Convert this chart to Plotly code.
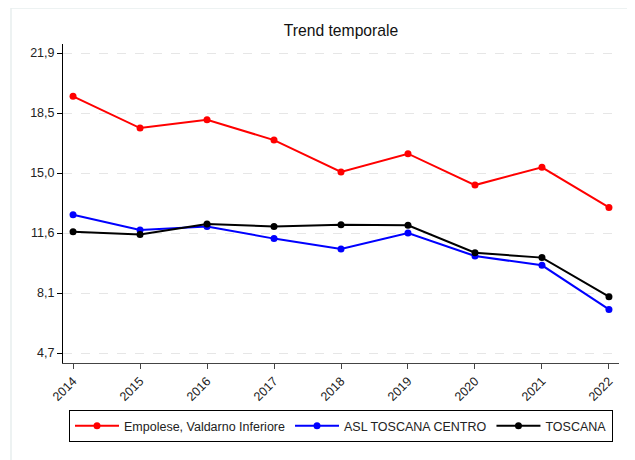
import plotly.graph_objects as go

years = [2014, 2015, 2016, 2017, 2018, 2019, 2020, 2021, 2022]
empolese = [19.42, 17.60, 18.08, 16.91, 15.08, 16.13, 14.33, 15.35, 13.05]
asl_centro = [12.63, 11.75, 11.96, 11.26, 10.66, 11.58, 10.26, 9.73, 7.20]
toscana = [11.66, 11.50, 12.10, 11.96, 12.06, 12.02, 10.45, 10.17, 7.93]

y_tickvals = [4.7, 8.14, 11.58, 15.02, 18.46, 21.9]
y_ticktext = ["4,7", "8,1", "11,6", "15,0", "18,5", "21,9"]

series = [
    ("Empolese, Valdarno Inferiore", empolese, "#ff0000"),
    ("ASL TOSCANA CENTRO", asl_centro, "#0000ff"),
    ("TOSCANA", toscana, "#000000"),
]

fig = go.Figure()
for name, vals, col in series:
    fig.add_trace(go.Scatter(
        x=years, y=vals, name=name, mode="lines+markers",
        line=dict(color=col, width=2),
        marker=dict(color=col, size=7),
    ))

# page body adds an 8px offset; figure coordinates are screen coordinates minus 8
OFF = 8
W, H = 635 - OFF, 460 - OFF
L, T = 63 - OFF, 44 - OFF
R, B = W - (619 - OFF), H - (363 - OFF)
pw, ph = W - L - R, H - T - B

font = "Liberation Sans, Arial, sans-serif"
fig.update_layout(
    width=W, height=H,
    margin=dict(l=L, r=R, t=T, b=B, autoexpand=False),
    paper_bgcolor="white", plot_bgcolor="white",
    font=dict(family=font, size=12.5, color="#222"),
    title=dict(text="Trend temporale", x=(341 - OFF) / W, xanchor="center",
               y=1 - (31 - OFF) / H, yanchor="middle", font=dict(size=15.7, color="#111")),
    showlegend=True,
    legend=dict(orientation="h", xref="container", x=(69 - OFF) / W, xanchor="left",
                yref="container", y=1 - (410 - OFF) / H, yanchor="top",
                bordercolor="#000", borderwidth=1, bgcolor="white",
                font=dict(size=12.5, color="#222"), itemwidth=44, tracegroupgap=0),
    xaxis=dict(range=[2013.85, 2022.15], tickvals=years, ticktext=[str(y) for y in years],
               tickangle=-45, ticks="outside", ticklen=5, tickcolor="#444",
               showline=True, linecolor="#444", linewidth=1, showgrid=False, zeroline=False,
               automargin=False),
    yaxis=dict(range=[4.127, 22.42], tickvals=y_tickvals, ticktext=y_ticktext,
               ticks="outside", ticklen=5, tickcolor="#000",
               showline=True, linecolor="#000", linewidth=1,
               showgrid=True, gridcolor="#e6e6e6", griddash="dash", gridwidth=1, zeroline=False,
               automargin=False),
)

fig.add_shape(type="rect", xref="paper", yref="paper",
              x0=(11 - OFF - L) / pw, x1=(634 - OFF - L) / pw,
              y0=(T + ph - 475) / ph, y1=(T + ph - 0) / ph,
              line=dict(color="#e8eeee", width=1.5), layer="below")

fig.write_html("out.html")
